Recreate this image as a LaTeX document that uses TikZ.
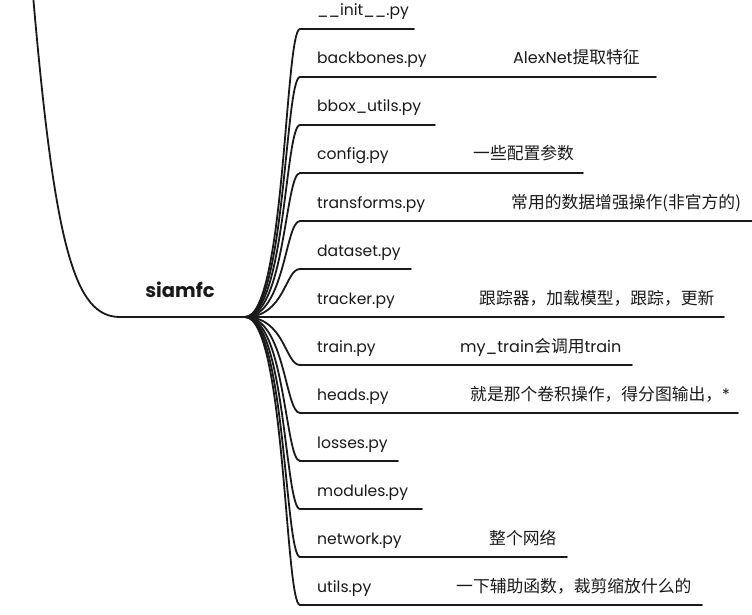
\documentclass[tikz,border=0pt]{standalone}
\usepackage{fontspec}
\setmainfont{Poppins}
\newfontfamily\cjk[Scale=1.05]{Noto Sans CJK SC}
\usetikzlibrary{positioning}

\begin{document}
\begin{tikzpicture}[x=1pt,y=-1pt,
    branch/.style={line width=1.8pt,draw=black!90,line cap=round},
    filename/.style={anchor=base west,inner sep=0pt,text=black!90,font=\fontsize{15.6}{18}\selectfont},
    note/.style={anchor=base west,inner sep=0pt,text=black!90,font=\fontsize{16}{18}\selectfont}]
    \clip (0,0) rectangle (752,615);
    % root
    \coordinate (hub) at (245,317);
    \coordinate (rootstart) at (120,317);
    \coordinate (parent) at (33,-5);
    \node[inner sep=0pt,text=black!90,font=\bfseries\fontsize{19.5}{22}\selectfont] (siamfc) at (180,290) {siamfc};
    \draw[branch] (parent) .. controls (55,250) and (75,317) .. (rootstart) -- (hub);
    % files
    \foreach \i/\fname/\xend/\xnote/\note in {
        0/{\_\_init\_\_.py}/414/0/{},
        1/{backbones.py}/656/513/{AlexNet{\cjk 提取特征}},
        2/{bbox\_utils.py}/435/0/{},
        3/{config.py}/583/473/{{\cjk 一些配置参数}},
        4/{transforms.py}/760/511/{{\cjk 常用的数据增强操作(非官方的)}},
        5/{dataset.py}/411/0/{},
        6/{tracker.py}/724/479/{{\cjk 跟踪器，加载模型，跟踪，更新}},
        7/{train.py}/632/460/{my\_train{\cjk 会调用}train},
        8/{heads.py}/738/470/{{\cjk 就是那个卷积操作，得分图输出，}*},
        9/{losses.py}/398/0/{},
        10/{modules.py}/422/0/{},
        11/{network.py}/567/489/{{\cjk 整个网络}},
        12/{utils.py}/702/456/{{\cjk 一下辅助函数，裁剪缩放什么的}}}
    {
        \pgfmathsetmacro{\y}{29+48*\i}
        \coordinate (b\i) at (300,\y);
        \coordinate (e\i) at (\xend,\y);
        \node[filename] (f\i) at (317,\y-13) {\fname};
        \node[note] (n\i) at (\xnote,\y-13) {\note};
        \draw[branch] (hub) .. controls (285,317) and (285,\y) .. (b\i) -- (e\i);
    }
\end{tikzpicture}
\end{document}
